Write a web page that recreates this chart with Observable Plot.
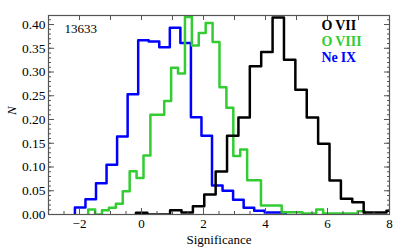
<!DOCTYPE html>
<html><head><meta charset="utf-8">
<script src="https://cdn.jsdelivr.net/npm/d3@7"></script>
<script src="https://cdn.jsdelivr.net/npm/@observablehq/plot@0.6"></script>
<style>
body{margin:0;background:#fff}
svg, svg text { font-family: "Liberation Serif", "Times New Roman", serif !important; }
</style>
</head><body><div id="chart"></div>
<script>
// Tick values
const xMajorTicks = [-2, 0, 2, 4, 6, 8];
const xMinorTicks = d3.range(-3, 8.001, 0.5);
const xTopTicks = d3.range(-3, 8.001, 1);
const yMajorTicks = [0, 0.05, 0.10, 0.15, 0.20, 0.25, 0.30, 0.35, 0.40];
const yMinorTicks = d3.range(0, 0.4195, 0.01);

// Legend
const seriesNames = ["O\u2009VII", "O\u2009VIII", "Ne\u2009IX"];
const seriesColors = ["#000000", "#33cc33", "#0000ff"];
const obsLabel = "13633";

// Histogram: Ne IX (blue)
const neixStart = -2.148, neixWidth = 0.3402;
const neixValues = [0.015, 0.032, 0.066, 0.105, 0.164, 0.253, 0.367, 0.364, 0.352, 0.393,
  0.361, 0.205, 0.166, 0.061, 0.050, 0.031, 0.014, 0.008, 0.004, 0.004];

// Histogram: O VIII (green)
const oviiiStart = -1.719, oviiiWidth = 0.2229;
const oviiiValues = [0.0105, 0.0, 0.009, 0.014, 0.0225, 0.049, 0.091, 0.077, 0.124, 0.210,
  0.210, 0.239, 0.309, 0.297, 0.416, 0.356, 0.382, 0.403, 0.363, 0.268,
  0.225, 0.123, 0.137, 0.072, 0.072, 0.019, 0.019, 0.019, 0.005, 0.005,
  0.005, 0.002, 0.002, 0.0105, 0.002, 0.002, 0.002, 0.002, 0.002, 0.007];

// Histogram: O VII (black)
const oviiStart = -0.179, oviiWidth = 0.3673;
const oviiValues = [0.0035, 0, 0, 0.009, 0.004, 0.0175, 0.042, 0.0905, 0.166, 0.204,
  0.312, 0.342, 0.415, 0.326, 0.2625, 0.204, 0.149, 0.0716, 0.033, 0.026,
  0.004, 0.004, 0.008];

function steps(start, width, values) {
  const pts = [{x: start, y: 0}];
  values.forEach((v, i) => {
    pts.push({x: start + i * width, y: v});
    pts.push({x: start + (i + 1) * width, y: v});
  });
  pts.push({x: start + values.length * width, y: 0});
  return pts;
}

const font = "'Liberation Serif', 'Times New Roman', serif";
const axisColor = "#555";
const minus = d => d < 0 ? "\u2212" + Math.abs(d) : String(d);

const legendMarks = seriesNames.map((name, i) =>
  Plot.text([name], {frameAnchor: "top-right", dx: -68, dy: 10 + i * 15.8, textAnchor: "start",
    lineAnchor: "middle", fill: seriesColors[i], fontWeight: "bold", fontSize: 14, fontFamily: font})
);

const chart = Plot.plot({
  width: 399, height: 250,
  marginLeft: 48, marginRight: 10, marginTop: 15, marginBottom: 36,
  x: {domain: [-3, 8], label: null},
  y: {domain: [0, 0.419], label: null},
  style: {fontFamily: font, fontSize: "13px", color: "#000", background: "#fff"},
  marks: [
    Plot.line(steps(neixStart, neixWidth, neixValues), {x: "x", y: "y", stroke: seriesColors[2], strokeWidth: 2.5, clip: true}),
    Plot.line(steps(oviiiStart, oviiiWidth, oviiiValues), {x: "x", y: "y", stroke: seriesColors[1], strokeWidth: 2.5, clip: true}),
    Plot.line(steps(oviiStart, oviiWidth, oviiValues), {x: "x", y: "y", stroke: seriesColors[0], strokeWidth: 2.5, clip: true}),
    Plot.frame({stroke: axisColor, strokeWidth: 1.2}),
    Plot.axisX({anchor: "bottom", ticks: xMinorTicks, tickSize: -3, tickFormat: () => "", stroke: axisColor, label: null}),
    Plot.axisX({anchor: "bottom", ticks: xMajorTicks, tickSize: -6, tickFormat: () => "", stroke: axisColor, label: null}),
    Plot.axisX({anchor: "bottom", ticks: xMajorTicks, tickSize: 0, tickPadding: 4, tickFormat: minus, fontSize: 13, fontFamily: font, label: null}),
    Plot.axisX({anchor: "top", ticks: xTopTicks, tickSize: -4, tickFormat: () => "", stroke: axisColor, label: null}),
    Plot.axisY({anchor: "left", ticks: yMinorTicks, tickSize: -3, tickFormat: () => "", stroke: axisColor, label: null}),
    Plot.axisY({anchor: "left", ticks: yMajorTicks, tickSize: -6, tickFormat: () => "", stroke: axisColor, label: null}),
    Plot.axisY({anchor: "left", ticks: yMajorTicks, tickSize: 0, tickPadding: 3, tickFormat: d => d.toFixed(2), fontSize: 13.5, fontFamily: font, label: null}),
    Plot.axisY({anchor: "right", ticks: yMinorTicks, tickSize: -3, tickFormat: () => "", stroke: axisColor, label: null}),
    Plot.axisY({anchor: "right", ticks: yMajorTicks, tickSize: -6, tickFormat: () => "", stroke: axisColor, label: null}),
    Plot.text(["Significance"], {frameAnchor: "bottom", dy: 25, lineAnchor: "middle", fontSize: 13, fontFamily: font}),
    Plot.text(["N"], {frameAnchor: "left", dx: -37, rotate: -90, fontStyle: "italic", fontSize: 13, fontFamily: font}),
    Plot.text([obsLabel], {frameAnchor: "top-left", dx: 16, dy: 13, textAnchor: "start", lineAnchor: "middle", fontSize: 13, fontFamily: font}),
    ...legendMarks
  ]
});
document.getElementById("chart").append(chart);
</script>
</body></html>
